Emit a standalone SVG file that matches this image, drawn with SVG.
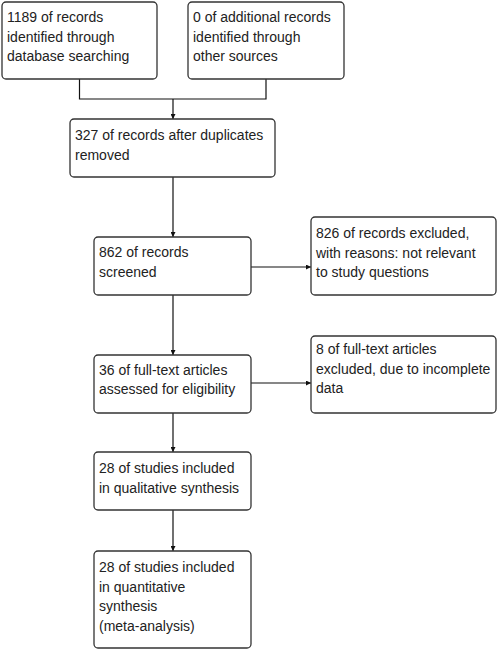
<svg xmlns="http://www.w3.org/2000/svg" width="498" height="650" viewBox="0 0 498 650">
<style>
.box{fill:#fff;stroke:#333;stroke-width:1.3}
.t{font-family:"Liberation Sans",Arial,sans-serif;font-size:14px;fill:#222}
.c{fill:none;stroke:#111;stroke-width:1.2}
</style>
<defs>
<marker id="ah" viewBox="0 0 10 10" refX="10" refY="5" markerWidth="7" markerHeight="5" markerUnits="userSpaceOnUse" orient="auto">
<path d="M0,0 L10,5 L0,10 Z" fill="#111"/>
</marker>
</defs>
<rect width="498" height="650" fill="#fff"/>
<g id="connectors">
<path class="c" d="M79.5,79 V99 H266 V79"/>
<path class="c" d="M173,99 V119" marker-end="url(#ah)"/>
<path class="c" d="M173,177 V237" marker-end="url(#ah)"/>
<path class="c" d="M251,267 H311" marker-end="url(#ah)"/>
<path class="c" d="M173,295 V355" marker-end="url(#ah)"/>
<path class="c" d="M251,383 H311" marker-end="url(#ah)"/>
<path class="c" d="M173,413 V452" marker-end="url(#ah)"/>
<path class="c" d="M173,510 V551" marker-end="url(#ah)"/>
</g>
<g id="n1">
<rect class="box" x="2" y="2" width="155" height="77" rx="4"/>
<text class="t" x="7" y="22">1189 of records</text>
<text class="t" x="7" y="41.5">identified through</text>
<text class="t" x="7" y="61">database searching</text>
</g>
<g id="n2">
<rect class="box" x="188" y="2" width="156" height="77" rx="4"/>
<text class="t" x="193" y="22">0 of additional records</text>
<text class="t" x="193" y="41.5">identified through</text>
<text class="t" x="193" y="61">other sources</text>
</g>
<g id="n3">
<rect class="box" x="70" y="119" width="205" height="58" rx="4"/>
<text class="t" x="75" y="140">327 of records after duplicates</text>
<text class="t" x="75" y="159.5">removed</text>
</g>
<g id="n4">
<rect class="box" x="94" y="237" width="157" height="58" rx="4"/>
<text class="t" x="99" y="257">862 of records</text>
<text class="t" x="99" y="276.5">screened</text>
</g>
<g id="n5">
<rect class="box" x="311" y="217" width="185" height="78" rx="4"/>
<text class="t" x="316" y="238">826 of records excluded,</text>
<text class="t" x="316" y="257.5">with reasons: not relevant</text>
<text class="t" x="316" y="277">to study questions</text>
</g>
<g id="n6">
<rect class="box" x="94" y="355" width="157" height="58" rx="4"/>
<text class="t" x="99" y="374.5">36 of full-text articles</text>
<text class="t" x="99" y="394">assessed for eligibility</text>
</g>
<g id="n7">
<rect class="box" x="311" y="336" width="185" height="77" rx="4"/>
<text class="t" x="316" y="354">8 of full-text articles</text>
<text class="t" x="316" y="373.5">excluded, due to incomplete</text>
<text class="t" x="316" y="393">data</text>
</g>
<g id="n8">
<rect class="box" x="94" y="452" width="157" height="58" rx="4"/>
<text class="t" x="99" y="473">28 of studies included</text>
<text class="t" x="99" y="492.5">in qualitative synthesis</text>
</g>
<g id="n9">
<rect class="box" x="94" y="551" width="157" height="97" rx="4"/>
<text class="t" x="99" y="572">28 of studies included</text>
<text class="t" x="99" y="591.5">in quantitative</text>
<text class="t" x="99" y="611">synthesis</text>
<text class="t" x="99" y="630.5">(meta-analysis)</text>
</g>
</svg>
